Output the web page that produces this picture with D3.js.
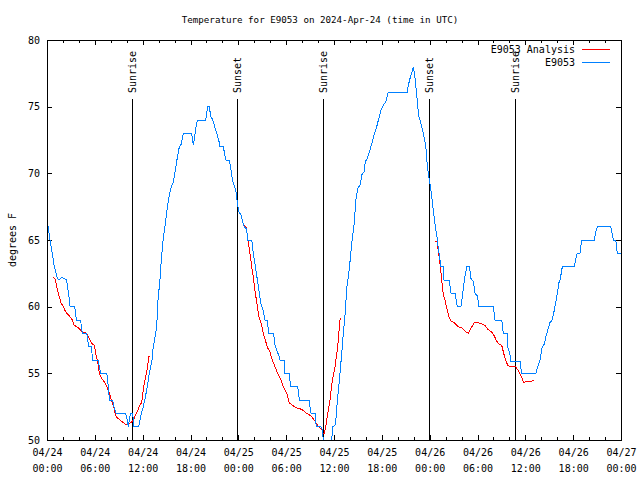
<!DOCTYPE html>
<html>
<head>
<meta charset="utf-8">
<script src="https://cdn.jsdelivr.net/npm/d3@7"></script>
<style>
  body { margin: 0; background: #fff; }
  text { font-family: "DejaVu Sans Mono", monospace; font-size: 10px; fill: #000; }
</style>
</head>
<body>
<svg width="640" height="480"></svg>
<script>
// Observed E9053 temperature: [hours since 04/24 00:00 UTC, deg F]
var observed = [
  [0,66],[0.13,66],[0.38,65],[0.66,64],[0.92,63],[1.22,62.3],[1.42,62],[1.88,62.2],[2.47,62],
  [2.6,61.4],[2.8,60.6],[2.89,60],[3.47,60],[3.6,59.5],[3.68,59],[4.23,59],[4.3,58.5],[4.43,58],
  [4.98,58],[5.11,57.5],[5.23,57],[5.61,57],[5.68,56],[6.44,56],[6.56,55.5],[6.74,55],[7.49,55],
  [7.61,54.5],[7.74,53.5],[7.87,53],[8.24,53],[8.4,52.5],[8.66,52],[9.87,52],[10.07,51.5],
  [10.2,51],[10.41,51.8],[10.5,52],[10.75,52],[10.91,51],[11.5,51],[11.67,51.5],[11.83,52],
  [12.08,52.5],[12.33,53.2],[12.58,54],[12.83,55],[13.17,56],[13.33,57],[13.58,57.8],[13.76,58.5],
  [13.92,60.5],[14.17,62],[14.34,63.5],[14.59,65.2],[14.84,66.2],[15.09,67.4],[15.34,68.4],
  [15.64,69.1],[15.84,69.3],[16.09,70.2],[16.35,71.2],[16.6,72],[16.85,72.2],[17.1,73],[18.15,73],
  [18.35,72.1],[18.56,72.9],[18.78,73.8],[18.9,74],[19.91,74],[20.16,75],[20.36,75],[20.53,74.3],
  [20.79,74],[21.04,73.5],[21.29,73],[21.54,72.5],[21.7,72],[22.11,72],[22.37,71.2],[22.45,71],
  [22.87,71],[23.04,70.4],[23.29,69.4],[23.49,69.1],[23.71,68.6],[23.87,67.8],[24.08,67.1],
  [24.33,66.9],[24.55,66.3],[24.75,66],[25.05,65.8],[25.17,65],[25.68,65],[25.88,64],[26.09,63.2],
  [26.34,62.2],[26.59,61.2],[26.84,60.2],[27.09,59.8],[27.34,59],[27.68,59],[27.76,58],[28.43,58],
  [28.6,57.1],[28.94,56.5],[29.01,56.5],[29.23,56],[29.73,56],[29.85,55],[30.36,55],[30.57,54],
  [31.45,54],[31.65,53],[32.86,53],[33.12,52],[33.62,52],[33.78,51],[34.37,51],[34.53,50.8],
  [34.66,50],[34.87,49],[35.5,49],[35.71,50],[35.84,51],[36.13,51.1],[36.25,51.6],[36.41,52.9],
  [36.59,53.9],[36.75,55],[36.97,56.5],[37.17,58],[37.42,59.6],[37.59,61.4],[37.84,62.4],
  [38.01,63.4],[38.26,64.9],[38.51,66.1],[38.76,68.1],[39.01,68.9],[39.26,69.1],[39.51,69.9],
  [39.76,70.1],[39.93,70.9],[40.18,71.1],[40.43,71.6],[40.73,72.2],[41.02,72.9],[41.36,73.5],
  [41.61,74.1],[41.93,74.8],[42.18,75.1],[42.52,75.4],[42.81,76.1],[45.19,76.1],[45.32,76.6],
  [45.53,77.1],[45.78,77.6],[45.95,78],[46.12,77.4],[46.29,76.4],[46.45,75.4],[46.62,74.3],
  [46.88,73.8],[47.13,73.2],[47.38,72.5],[47.54,71.8],[47.7,70.6],[47.88,69.8],[48.13,68.9],
  [48.46,67.2],[48.67,66.2],[48.92,65.2],[49.17,64],[49.42,63],[49.71,63],[49.8,62],[50.46,62],
  [50.68,61],[51.18,61],[51.47,60],[51.93,60],[52.1,60.8],[52.35,62],[52.65,63],[52.98,63],
  [53.19,62.1],[53.48,61.9],[53.69,61],[53.98,60.8],[54.19,60],[55.98,60],[56.2,59],[57.04,59],
  [57.24,58],[57.7,58],[57.79,57],[58.08,56.4],[58.2,55.9],[59.33,55.9],[59.54,55],[61.34,55],
  [61.55,55.5],[61.84,56],[62.13,57],[62.38,57.2],[62.59,57.8],[62.8,58.2],[63.09,58.8],
  [63.38,59],[63.72,60],[64.01,61],[64.22,61.8],[64.39,62.1],[64.64,63],[66.14,63],[66.32,63.6],
  [66.52,64],[66.86,64],[67.07,65],[68.65,65],[68.83,65.6],[69.03,66],[70.71,66],[70.91,65.4],
  [71.04,65],[71.34,65],[71.54,64],[72,64]
];

// E9053 Analysis, three separate runs
var analysis1 = [
  [0.79,62.2],[1,62.1],[1.22,61.5],[1.51,60.8],[1.76,60.3],[2.04,60],[2.35,59.6],[2.67,59.4],
  [2.92,59.2],[3.17,59],[3.42,58.6],[3.73,58.5],[3.93,58.4],[4.26,58.2],[4.55,58.1],[4.85,58.1],
  [5.11,57.8],[5.39,57.5],[5.68,57.2],[5.93,57.1],[6.11,56.5],[6.36,55.9],[6.56,55],[6.86,54.6],
  [7.15,54.4],[7.49,54],[7.78,53.6],[8.03,53.1],[8.32,52.6],[8.62,51.8],[8.94,51.6],[9.37,51.4],
  [9.78,51.2],[10.2,51.2],[10.54,51.3],[10.83,51.5],[11.13,51.9],[11.38,52.2],[11.63,52.6],
  [11.88,52.8],[12.08,53.8],[12.29,54.5],[12.54,55.2],[12.79,56.3],[12.96,56.3]
];
var analysis2 = [
  [24.62,66.1],[24.96,66],[25.17,65.2],[25.34,64.5],[25.46,64],[25.68,63],[25.88,62.2],
  [26.09,61.2],[26.34,60.2],[26.59,59.2],[26.84,58.8],[27.13,58],[27.43,57.4],[27.68,56.9],
  [27.97,56.6],[28.26,56],[28.6,55.5],[28.94,55],[29.35,54.5],[29.64,54],[30.07,53.5],
  [30.39,52.8],[30.77,52.6],[31.32,52.4],[31.95,52.3],[32.58,52],[33.12,51.8],[33.62,51.4],
  [34.03,51],[34.46,50.8],[34.62,50.5],[34.78,50.5],[34.96,51],[35.21,52],[35.5,53],[35.79,54.5],
  [36.13,55.5],[36.46,57],[36.75,59],[36.88,59.1]
];
var analysis3 = [
  [48.67,64.9],[48.92,64.9],[49.08,64.2],[49.3,63.2],[49.51,62],[49.71,60.9],[49.92,60.5],
  [50.14,59.9],[50.43,59.2],[50.68,58.9],[51.09,58.8],[51.59,58.5],[52.1,58.4],[52.52,58.1],
  [52.85,58],[53.19,58.4],[53.6,58.8],[54.03,58.8],[54.53,58.7],[54.94,58.6],[55.28,58.3],
  [55.78,58.1],[56.11,57.8],[56.41,57.4],[56.7,57.2],[57.04,57.1],[57.33,56.4],[57.54,56],
  [57.79,55.6],[58.2,55.5],[58.79,55.5],[59.12,55.2],[59.46,54.8],[59.8,54.3],[60.17,54.4],
  [60.71,54.4],[61.05,54.5]
];

var sunTimes = [10.72, 23.85, 34.65, 47.93, 58.72];
var sunLabels = ["Sunrise", "Sunset", "Sunrise", "Sunset", "Sunrise"];
var yTicks = [50, 55, 60, 65, 70, 75, 80];

var t0 = Date.UTC(2024, 3, 24);
function toDate(h) { return new Date(t0 + h * 3600e3); }

var svg = d3.select("svg"),
    pLeft = 47, pRight = 621, pTop = 40, pBottom = 440;

var x = d3.scaleUtc()
    .domain([toDate(0), toDate(72)])
    .range([pLeft, pRight]);
var y = d3.scaleLinear()
    .domain([50, 80])
    .range([pBottom, pTop]);

var majorTicks = d3.range(0, 73, 6).map(toDate),
    minorTicks = d3.range(0, 73, 2).filter(function(h) { return h % 6; }).map(toDate);

// title
svg.append("text")
    .attr("x", 320).attr("y", 23)
    .attr("text-anchor", "middle")
    .style("font-size", "9.2px")
    .text("Temperature for E9053 on 2024-Apr-24 (time in UTC)");

svg.append("text")
    .attr("transform", "translate(12,240) rotate(-90)")
    .attr("text-anchor", "middle")
    .attr("dy", "0.35em")
    .text("degrees F");

// axes (ticks pointing inward, gnuplot style)
var gx = svg.append("g")
    .attr("transform", "translate(0," + pBottom + ")")
    .call(d3.axisBottom(x).tickValues(majorTicks).tickSize(-5).tickSizeOuter(0).tickPadding(9)
      .tickFormat(function() { return ""; }));
gx.selectAll(".tick text").each(function(d) {
    var t = d3.select(this);
    t.append("tspan").attr("x", 0).attr("dy", "0.71em").text(d3.utcFormat("%m/%d")(d));
    t.append("tspan").attr("x", 0).attr("dy", "1.6em").text(d3.utcFormat("%H:%M")(d));
});
svg.append("g")
    .attr("transform", "translate(0," + pBottom + ")")
    .call(d3.axisBottom(x).tickValues(minorTicks).tickSize(-3).tickSizeOuter(0).tickFormat(""));
svg.append("g")
    .attr("transform", "translate(0," + pTop + ")")
    .call(d3.axisTop(x).tickValues(majorTicks).tickSize(-5).tickSizeOuter(0).tickFormat(""));
svg.append("g")
    .attr("transform", "translate(0," + pTop + ")")
    .call(d3.axisTop(x).tickValues(minorTicks).tickSize(-3).tickSizeOuter(0).tickFormat(""));

svg.append("g")
    .attr("transform", "translate(" + pLeft + ",0)")
    .call(d3.axisLeft(y).tickValues(yTicks).tickSize(-5).tickSizeOuter(0).tickPadding(7));
svg.append("g")
    .attr("transform", "translate(" + pRight + ",0)")
    .call(d3.axisRight(y).tickValues(yTicks).tickSize(-5).tickSizeOuter(0).tickFormat(""));

svg.selectAll(".domain").remove();
svg.selectAll(".tick line").attr("stroke", "#000").attr("shape-rendering", "crispEdges");
svg.selectAll(".tick text").style("font-family", "'DejaVu Sans Mono', monospace").style("font-size", "10px");

// sunrise / sunset markers
var sun = svg.append("g");
sun.selectAll("line")
    .data(sunTimes)
    .enter().append("line")
    .attr("x1", function(d) { return Math.round(x(toDate(d))) + 0.5; })
    .attr("x2", function(d) { return Math.round(x(toDate(d))) + 0.5; })
    .attr("y1", 99).attr("y2", pBottom)
    .attr("stroke", "#000");
sun.selectAll("text")
    .data(sunTimes)
    .enter().append("text")
    .attr("transform", function(d) { return "translate(" + x(toDate(d)) + ",93) rotate(-90)"; })
    .attr("dy", "0.35em")
    .text(function(d, i) { return sunLabels[i]; });

// data lines
svg.append("clipPath").attr("id", "plot")
  .append("rect").attr("x", pLeft).attr("y", pTop)
    .attr("width", pRight - pLeft).attr("height", pBottom - pTop);

var line = d3.line()
    .x(function(d) { return x(toDate(d[0])); })
    .y(function(d) { return y(d[1]); });

var plot = svg.append("g").attr("clip-path", "url(#plot)");
[analysis1, analysis2, analysis3].forEach(function(run) {
    plot.append("path")
        .datum(run)
        .attr("fill", "none")
        .attr("stroke", "#ff0000")
        .attr("stroke-width", 1)
        .attr("shape-rendering", "crispEdges")
        .attr("d", line);
});
plot.append("path")
    .datum(observed)
    .attr("fill", "none")
    .attr("stroke", "#0080ff")
    .attr("stroke-width", 1)
    .attr("shape-rendering", "crispEdges")
    .attr("d", line);

// border
svg.append("rect")
    .attr("x", pLeft + 0.5).attr("y", pTop + 0.5)
    .attr("width", pRight - pLeft).attr("height", pBottom - pTop)
    .attr("fill", "none").attr("stroke", "#000");

// legend
var legend = [["E9053 Analysis", "#ff0000"], ["E9053", "#0080ff"]];
legend.forEach(function(d, i) {
    var ly = 49 + i * 13;
    svg.append("text")
        .attr("x", 575).attr("y", ly)
        .attr("dy", "0.35em")
        .attr("text-anchor", "end")
        .text(d[0]);
    svg.append("line")
        .attr("x1", 582).attr("x2", 610)
        .attr("y1", ly + 0.5).attr("y2", ly + 0.5)
        .attr("stroke", d[1]);
});
</script>
</body>
</html>
